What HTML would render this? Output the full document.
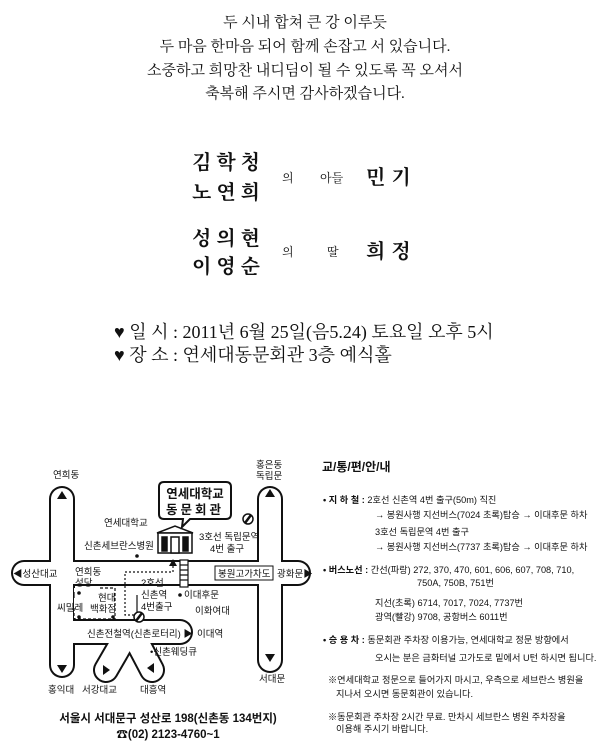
<!DOCTYPE html>
<html><head><meta charset="utf-8"><style>
html,body{margin:0;padding:0;background:#fff;}
svg{display:block}
.s{font-family:"Liberation Serif","Noto Serif CJK SC",serif;}
.g{font-family:"Liberation Sans","Noto Sans CJK KR",sans-serif;}
</style></head><body>
<svg width="610" height="750" viewBox="0 0 610 750" xmlns="http://www.w3.org/2000/svg">
<rect width="610" height="750" fill="#fff"/>
<g class="s" font-size="15" text-anchor="middle" fill="#111">
<text x="305" y="27">두 시내 합쳐 큰 강 이루듯</text>
<text x="305" y="51">두 마음 한마음 되어 함께 손잡고 서 있습니다.</text>
<text x="305" y="75">소중하고 희망찬 내디딤이 될 수 있도록 꼭 오셔서</text>
<text x="305" y="98">축복해 주시면 감사하겠습니다.</text>
</g>
<g class="s" fill="#111">
<text x="192" y="169" font-size="20" font-weight="bold" letter-spacing="5">김학청</text>
<text x="192" y="199" font-size="20" font-weight="bold" letter-spacing="5">노연희</text>
<text x="282" y="182" font-size="12">의</text>
<text x="320" y="182" font-size="12">아들</text>
<text x="366" y="184" font-size="20" font-weight="bold" letter-spacing="6">민기</text>
<text x="192" y="245" font-size="20" font-weight="bold" letter-spacing="5">성의현</text>
<text x="192" y="273" font-size="20" font-weight="bold" letter-spacing="5">이영순</text>
<text x="282" y="256" font-size="12">의</text>
<text x="327" y="256" font-size="12">딸</text>
<text x="366" y="258" font-size="20" font-weight="bold" letter-spacing="6">희정</text>
<text x="114" y="338" font-size="18">♥ 일 시 : 2011년 6월 25일(음5.24) 토요일 오후 5시</text>
<text x="114" y="361" font-size="18">♥ 장 소 : 연세대동문회관 3층 예식홀</text>
</g>
<!-- roads -->
<g fill="none" stroke-linecap="round" stroke-linejoin="round">
<g stroke="#111" stroke-width="26">
<path d="M62,499 L62,665"/><path d="M24,573 L298,573"/><path d="M270,499 L270,660"/>
<path d="M62,632 L180,632"/><path d="M128,632 L106,670"/><path d="M132,632 L152,670"/>
</g>
<g stroke="#fff" stroke-width="22">
<path d="M62,499 L62,665"/><path d="M24,573 L298,573"/><path d="M270,499 L270,660"/>
<path d="M62,632 L180,632"/><path d="M128,632 L106,670"/><path d="M132,632 L152,670"/>
</g>
</g>
<rect x="74" y="588" width="182" height="30" fill="#fff"/>
<!-- block -->
<g stroke="#111" stroke-width="1.2" fill="none">
<line x1="74" y1="592" x2="74" y2="598"/>
<polyline points="100,588 115,588 115,619 74,619 74,608" stroke-dasharray="3,2"/>
<line x1="137" y1="595" x2="137" y2="617"/>
<polyline points="173,566 173,572 125,572 125,615 136,615" stroke-dasharray="2,2"/>
</g>
<g fill="#111">
<circle cx="79" cy="593" r="1.8"/><circle cx="79" cy="617" r="1.8"/><circle cx="113" cy="617" r="1.8"/>
<circle cx="137" cy="556" r="1.8"/><circle cx="180" cy="595" r="1.8"/>
<polygon points="173,559 169,566 177,566"/>
<polygon points="62,491 57,499 67,499"/><polygon points="270,489 265,497 275,497"/>
<polygon points="62,673 57,665 67,665"/><polygon points="270,662 265,654 275,654"/>
<polygon points="103,665 103,675 110,670"/><polygon points="154,663 154,673 147,668"/>
</g>
<!-- stairs -->
<g stroke="#111" stroke-width="1.2" fill="#fff">
<rect x="180" y="560" width="8" height="27"/>
<path d="M180,565h8M180,570h8M180,575h8M180,580h8" fill="none"/>
</g>
<!-- building -->
<g stroke="#111" stroke-width="1.5" fill="#fff">
<polygon points="157,533 175,526 193,533"/>
<rect x="158" y="533" width="34" height="20"/>
<rect x="162" y="537" width="5" height="14" fill="#111"/>
<rect x="183" y="537" width="5" height="14" fill="#111"/>
<rect x="171" y="537" width="8" height="16"/>
</g>
<!-- callout -->
<path d="M164,482 H226 Q231,482 231,487 V514 Q231,519 226,519 H190 L182,527 L183,519 H164 Q159,519 159,514 V487 Q159,482 164,482 Z" fill="#fff" stroke="#111" stroke-width="2"/>
<g class="g" font-weight="bold" fill="#111" text-anchor="middle">
<text x="195" y="498" font-size="12.5">연세대학교</text>
<text x="195" y="514" font-size="12.5" letter-spacing="3">동문회관</text>
</g>
<!-- subway icons -->
<g stroke="#111" fill="#fff" stroke-width="1.5">
<circle cx="248" cy="519" r="5"/><circle cx="139" cy="617" r="5"/>
</g>
<g stroke="#111" stroke-width="2.5"><line x1="245" y1="523" x2="251" y2="515"/><line x1="136" y1="621" x2="142" y2="613"/></g>
<rect x="215" y="566" width="58" height="14" fill="#fff" stroke="#111" stroke-width="1"/>
<g class="g" font-size="9.5" fill="#111">
<text x="53" y="478">연희동</text>
<text x="256" y="468">홍은동</text><text x="256" y="479">독립문</text>
<text x="104" y="526">연세대학교</text>
<text x="84" y="549">신촌세브란스병원</text>
<text x="199" y="540">3호선 독립문역</text>
<text x="210" y="552">4번 출구</text>
<text x="13" y="577">◀성산대교</text>
<text x="218" y="577">봉원고가차도</text>
<text x="277" y="577">광화문▶</text>
<text x="75" y="575">연희동</text><text x="75" y="586">성당</text>
<text x="141" y="586">2호선</text><text x="141" y="598">신촌역</text><text x="141" y="610">4번출구</text>
<text x="184" y="598">이대후문</text>
<text x="57" y="611">씨밀레</text>
<text x="98" y="601">현대</text><text x="90" y="612">백화점</text>
<text x="195" y="614">이화여대</text>
<text x="87" y="637">신촌전철역(신촌로터리) ▶</text>
<text x="197" y="637">이대역</text>
<text x="150" y="655">•신촌웨딩큐</text>
<text x="48" y="693">홍익대</text><text x="82" y="693">서강대교</text><text x="140" y="693">대흥역</text>
<text x="259" y="682">서대문</text>
</g>
<g class="g" font-size="11.5" font-weight="bold" fill="#111" text-anchor="middle">
<text x="168" y="722">서울시 서대문구 성산로 198(신촌동 134번지)</text>
<text x="168" y="738">☎(02) 2123-4760~1</text>
</g>
<!-- right column -->
<g class="g" fill="#111" font-size="9.2">
<text x="322" y="471" font-size="12" font-weight="bold">교/통/편/안/내</text>
<text x="323" y="503"><tspan font-weight="bold">• 지 하 철 :</tspan> 2호선 신촌역 4번 출구(50m) 직진</text>
<text x="375" y="518">→ 봉원사행 지선버스(7024 초록)탑승 → 이대후문 하차</text>
<text x="375" y="535">3호선 독립문역 4번 출구</text>
<text x="375" y="550">→ 봉원사행 지선버스(7737 초록)탑승 → 이대후문 하차</text>
<text x="323" y="573"><tspan font-weight="bold">• 버스노선 :</tspan> 간선(파랑) 272, 370, 470, 601, 606, 607, 708, 710,</text>
<text x="417" y="586">750A, 750B, 751번</text>
<text x="375" y="606">지선(초록) 6714, 7017, 7024, 7737번</text>
<text x="375" y="620">광역(빨강) 9708, 공항버스 6011번</text>
<text x="323" y="643"><tspan font-weight="bold">• 승 용 차 :</tspan> 동문회관 주차장 이용가능,  연세대학교 정문 방향에서</text>
<text x="375" y="661">오시는 분은 금화터널 고가도로 밑에서 U턴 하시면 됩니다.</text>
<text x="328" y="683">※연세대학교 정문으로 들어가지 마시고, 우측으로 세브란스 병원을</text>
<text x="336" y="697">지나서 오시면 동문회관이 있습니다.</text>
<text x="328" y="720">※동문회관 주차장 2시간 무료. 만차시 세브란스 병원 주차장을</text>
<text x="336" y="732">이용해 주시기 바랍니다.</text>
</g>
</svg>
</body></html>
